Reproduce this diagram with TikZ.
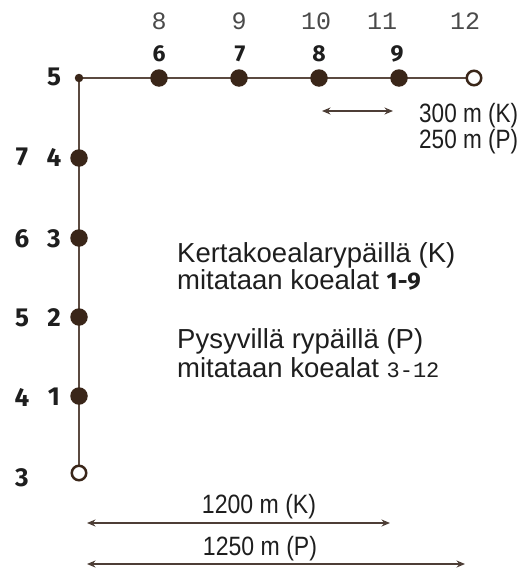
\documentclass[tikz,border=0pt]{standalone}
\usepackage{fontspec}
\setmainfont{Liberation Sans}
\newfontfamily\monof{Liberation Mono}
\newfontfamily\numf{Fira Sans}
\usetikzlibrary{arrows.meta,backgrounds}
\definecolor{linec}{HTML}{5B4A40}
\definecolor{dotc}{HTML}{3A2619}
\definecolor{txtc}{HTML}{1E1E1E}
\definecolor{grayc}{HTML}{4A4A4A}
\definecolor{arrc}{HTML}{4D3E36}
\tikzset{
  mainline/.style={draw=linec, line width=2.6pt},
  plotdot/.style={circle, fill=dotc, draw=none, minimum size=17.5pt, inner sep=0pt},
  cornerdot/.style={circle, fill=dotc, draw=none, minimum size=8.5pt, inner sep=0pt},
  opendot/.style={circle, fill=white, draw=dotc, line width=2.5pt, minimum size=14.5pt, inner sep=0pt},
  bnum/.style={font=\numf\bfseries\fontsize{26}{26}\selectfont, text=txtc, inner sep=0pt},
  tnum/.style={font=\numf\bfseries\fontsize{23}{23}\selectfont, text=txtc, inner sep=0pt},
  mnum/.style={font=\monof\fontsize{25}{25}\selectfont, text=grayc, inner sep=0pt},
  maintext/.style={font=\fontsize{27.5}{30}\selectfont, text=txtc, inner sep=0pt, anchor=base west},
  meas/.style={font=\fontsize{26.5}{30}\selectfont, text=txtc, inner sep=0pt},
  dim/.style={draw=arrc, line width=1.8pt, {Stealth[length=8.5pt,width=7pt]}-{Stealth[length=8.5pt,width=7pt]}}
}
\begin{document}
\begin{tikzpicture}[x=1pt,y=-1pt]
\useasboundingbox (0,0) rectangle (521,570);
% plot markers
\node[cornerdot] (c5) at (79,78) {};
\node[plotdot] (d6) at (159,78) {};
\node[plotdot] (d7) at (239,78) {};
\node[plotdot] (d8) at (319,78) {};
\node[plotdot] (d9) at (399,78) {};
\node[opendot] (o12) at (474,78) {};
\node[plotdot] (d4) at (79,158) {};
\node[plotdot] (d3) at (79,238) {};
\node[plotdot] (d2) at (79,317) {};
\node[plotdot] (d1) at (79,396) {};
\node[opendot] (o3) at (79,473) {};
\begin{scope}[on background layer]
\draw[mainline] (c5.center) -- (o12.center);
\draw[mainline] (c5.center) -- (o3.center);
\end{scope}
% top labels
\node[mnum] (m8) at (159,21) {8};
\node[mnum] (m9) at (239,21) {9};
\node[mnum] (m10) at (316,21) {10};
\node[mnum] (m11) at (382,21) {11};
\node[mnum] (m12) at (465,21) {12};
\node[tnum] (t6) at (159,54) {6};
\node[tnum] (t7) at (240,54) {7};
\node[tnum] (t8) at (319,54) {8};
\node[tnum] (t9) at (397,54) {9};
% left labels
\node[bnum] (l5) at (54,77) {5};
\node[bnum] (l4) at (54,157) {4};
\node[bnum] (l3) at (54,239) {3};
\node[bnum] (l2) at (54,318) {2};
\node[bnum] (l1) at (54,397) {1};
\node[bnum] (k7) at (22,157) {7};
\node[bnum] (k6) at (22,239) {6};
\node[bnum] (k5) at (22,318) {5};
\node[bnum] (k4) at (22,397) {4};
\node[bnum] (k3) at (22,478) {3};
% center text
\node[maintext] (tx1) at (177,262) {Kertakoealarypäillä (K)};
\node[maintext] (tx2) at (177,289) {mitataan koealat {\numf\bfseries\fontsize{24}{24}\selectfont 1-9}};
\node[maintext] (tx3) at (177,348) {Pysyvillä rypäillä (P)};
\node[maintext] (tx4) at (177,377) {mitataan koealat {\monof\fontsize{22}{22}\selectfont 3-12}};
% small dimension
\coordinate (s1) at (322,111);
\coordinate (s2) at (393,111);
\draw[dim] (s1) -- (s2);
\node[meas, anchor=base west] (sk) at (419,122) {\scalebox{0.85}[1]{300 m (K)}};
\node[meas, anchor=base west] (sp) at (419,148) {\scalebox{0.85}[1]{250 m (P)}};
% bottom dimensions
\coordinate (b1) at (87,523);
\coordinate (b2) at (390,523);
\draw[dim] (b1) -- (b2);
\coordinate (e1) at (87,564);
\coordinate (e2) at (465,564);
\draw[dim] (e1) -- (e2);
\node[meas, anchor=base] (bk) at (259,513) {\scalebox{0.87}[1]{1200 m (K)}};
\node[meas, anchor=base] (bp) at (260,555) {\scalebox{0.87}[1]{1250 m (P)}};
\end{tikzpicture}
\end{document}
